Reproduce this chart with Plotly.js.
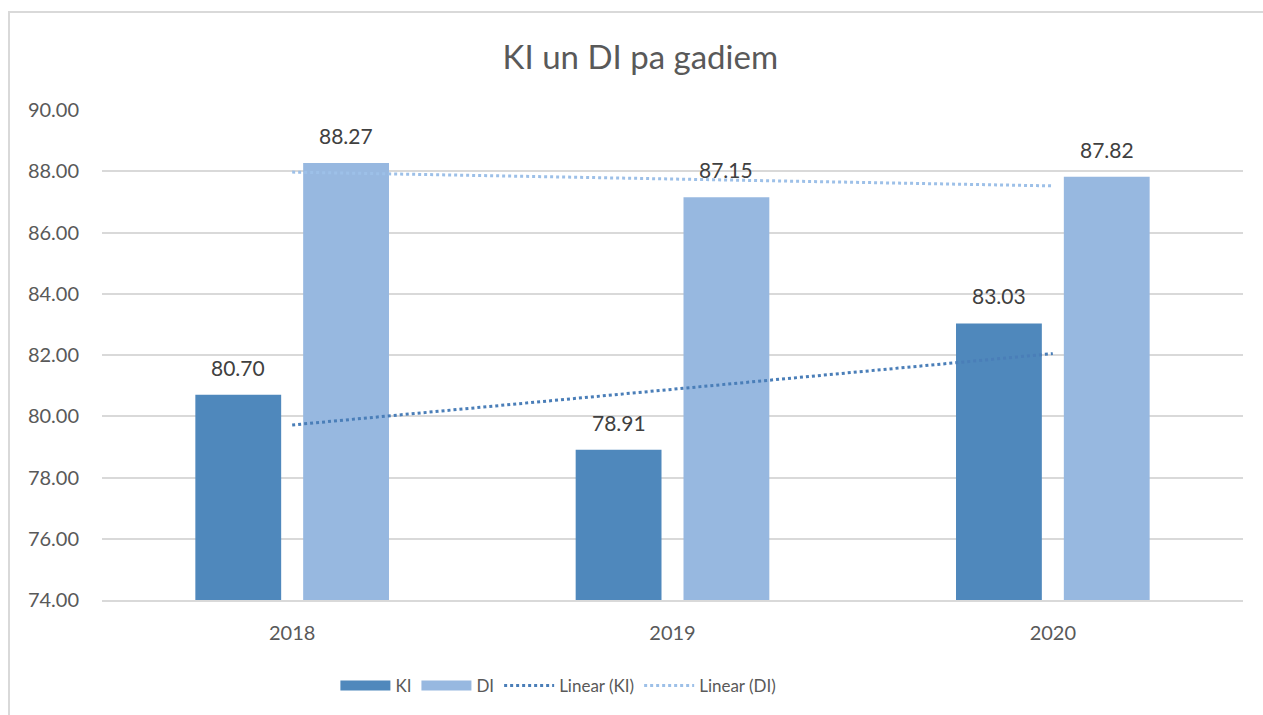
<!DOCTYPE html>
<html>
<head>
<meta charset="utf-8">
<script src="https://cdn.plot.ly/plotly-3.0.1.min.js"></script>
<style>
  html, body { margin: 0; padding: 0; width: 1263px; height: 715px; overflow: hidden; background: #fff; }
  #frame { position: absolute; left: 8px; top: 11px; width: 1300px; height: 800px; border: 2px solid #d9d9d9; box-sizing: border-box; }
  #chart { position: absolute; left: 0; top: 0; width: 1263px; height: 715px; }
</style>
</head>
<body>
<div id="frame"></div>
<div id="chart"></div>
<script>
// Data
const years = ['2018', '2019', '2020'];
const kiValues = [80.70, 78.91, 83.03];
const diValues = [88.27, 87.15, 87.82];
const yTicks = [74, 76, 78, 80, 82, 84, 86, 88, 90];

// Linear trendline (least squares over category index), as in the original chart
function linearTrend(vals) {
  const n = vals.length;
  const xs = vals.map((_, i) => i + 1);
  const mx = xs.reduce((a, b) => a + b, 0) / n;
  const my = vals.reduce((a, b) => a + b, 0) / n;
  let num = 0, den = 0;
  for (let i = 0; i < n; i++) { num += (xs[i] - mx) * (vals[i] - my); den += (xs[i] - mx) ** 2; }
  const slope = num / den;
  const icpt = my - slope * mx;
  return xs.map(x => icpt + slope * x);
}

const font = 'Lato, "Open Sans", sans-serif';
const kiColor = '#4f88bc';
const diColor = '#97b8e0';

const traces = [
  {
    type: 'bar', name: 'KI', x: years, y: kiValues, showlegend: false,
    marker: { color: kiColor }, hoverinfo: 'x+y'
  },
  {
    type: 'bar', name: 'DI', x: years, y: diValues, showlegend: false,
    marker: { color: diColor }, hoverinfo: 'x+y'
  },
  // legend proxies giving wide rectangular swatches like the original (no visible points)
  { type: 'scatter', mode: 'lines', name: 'KI', x: [years[0]], y: [null], line: { color: kiColor, width: 14 } },
  { type: 'scatter', mode: 'lines', name: 'DI', x: [years[0]], y: [null], line: { color: diColor, width: 14 } },
  {
    type: 'scatter', mode: 'lines', name: 'Linear (KI)', x: years, y: linearTrend(kiValues),
    line: { color: '#4a7eb8', width: 3, dash: 'dot' }
  },
  {
    type: 'scatter', mode: 'lines', name: 'Linear (DI)', x: years, y: linearTrend(diValues),
    line: { color: '#9dc0e8', width: 3, dash: 'dot' }
  }
];

const layout = {
  width: 1263, height: 715,
  paper_bgcolor: 'rgba(0,0,0,0)', plot_bgcolor: 'rgba(0,0,0,0)',
  margin: { l: 102, r: 20, t: 110, b: 114 },
  title: { text: 'KI un DI pa gadiem', font: { family: font, size: 33, color: '#595959' }, x: 0.507, xanchor: 'center', y: 0.92, yanchor: 'middle' },
  barmode: 'group', bargap: 0.433, bargroupgap: 0.204,
  xaxis: {
    type: 'category', categoryorder: 'array', categoryarray: years,
    showgrid: false, showline: true, linecolor: '#d9d9d9', linewidth: 2,
    ticks: '', tickfont: { family: font, size: 20, color: '#595959' }, ticklabelstandoff: 14
  },
  yaxis: {
    range: [74, 90], tickvals: yTicks, ticktext: yTicks.map(v => v.toFixed(2)),
    showgrid: true, gridcolor: '#d9d9d9', gridwidth: 2, zeroline: false, showline: false,
    ticks: '', tickfont: { family: font, size: 20, color: '#595959' }, ticklabelstandoff: 22
  },
  annotations: [],
  showlegend: true,
  legend: {
    orientation: 'h', x: 0.40, xanchor: 'center', y: -0.173, yanchor: 'middle',
    font: { family: font, size: 17, color: '#595959' }, itemwidth: 50, traceorder: 'normal'
  }
};

// data labels above bars; horizontal offset = half a bar slot (from axis length and gaps)
const plotW = layout.width - layout.margin.l - layout.margin.r;
const catW = plotW / years.length;
const slot = catW * (1 - layout.bargap) / 2;
function labels(vals, xshift) {
  return vals.map((v, i) => ({
    x: i, y: v, xref: 'x', yref: 'y', text: v.toFixed(2), showarrow: false,
    yanchor: 'bottom', yshift: 13, xshift: xshift,
    font: { family: font, size: 21, color: '#404040' }
  }));
}
layout.annotations = labels(kiValues, -slot / 2).concat(labels(diValues, slot / 2));

Plotly.newPlot('chart', traces, layout, { displayModeBar: false, staticPlot: true });
</script>
</body>
</html>
